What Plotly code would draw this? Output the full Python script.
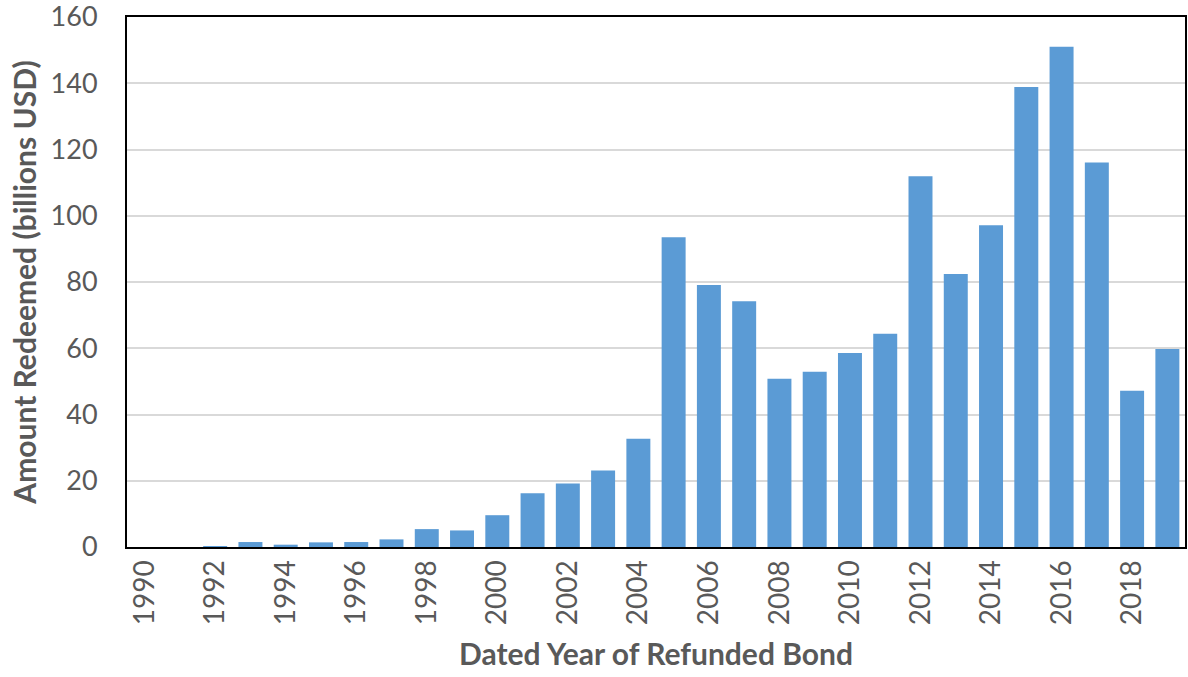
import plotly.graph_objects as go

years = list(range(1990, 2020))
amounts = [0, 0, 0.3, 1.5, 0.7, 1.4, 1.5, 2.3, 5.4, 5.0, 9.6, 16.2, 19.2, 23.1, 32.7,
           93.5, 79.1, 74.2, 50.8, 52.9, 58.6, 64.4, 111.9, 82.4, 97.1, 138.9, 151.0,
           116.1, 47.2, 59.8]
tick_years = list(range(1990, 2020, 2))

fig = go.Figure(go.Bar(x=years, y=amounts, marker=dict(color="#5b9bd5", line=dict(width=0)),
                       width=0.68, hoverinfo="skip"))

font_family = "Lato, Calibri, Carlito, sans-serif"
# figure is 8px taller at the top and the page is shifted up 8px, so the
# top tick label (160) has room and is not auto-hidden
fig.update_layout(
    width=1188, height=685,
    margin=dict(l=127, r=1, t=25, b=130),
    paper_bgcolor="white", plot_bgcolor="white",
    showlegend=False,
    font=dict(family=font_family, color="#595959", size=28),
)
fig.update_xaxes(
    range=[1989.5, 2019.5],
    tickmode="array", tickvals=tick_years, ticktext=[str(y) for y in tick_years],
    tickangle=-90, tickfont=dict(size=28, color="#595959"),
    showline=True, linecolor="black", linewidth=2, mirror=True,
    showgrid=False, ticks="",
    title=dict(text="<b>Dated Year of Refunded Bond</b>", font=dict(size=30, color="#595959"), standoff=20),
)
fig.update_yaxes(
    range=[0, 160], dtick=20,
    tickfont=dict(size=27, color="#595959"),
    showline=True, linecolor="black", linewidth=2, mirror=True,
    showgrid=True, gridcolor="#d9d9d9", gridwidth=1.5, zeroline=False,
    ticks="", ticklabelstandoff=22,
    title=dict(text="<b>Amount Redeemed (billions USD)</b>", font=dict(size=30, color="#595959"), standoff=5),
)

fig.write_html(
    "out.html",
    config={"displayModeBar": False},
    post_script="document.body.style.margin='0';document.body.style.marginTop='-8px';document.body.style.overflow='hidden';",
)
